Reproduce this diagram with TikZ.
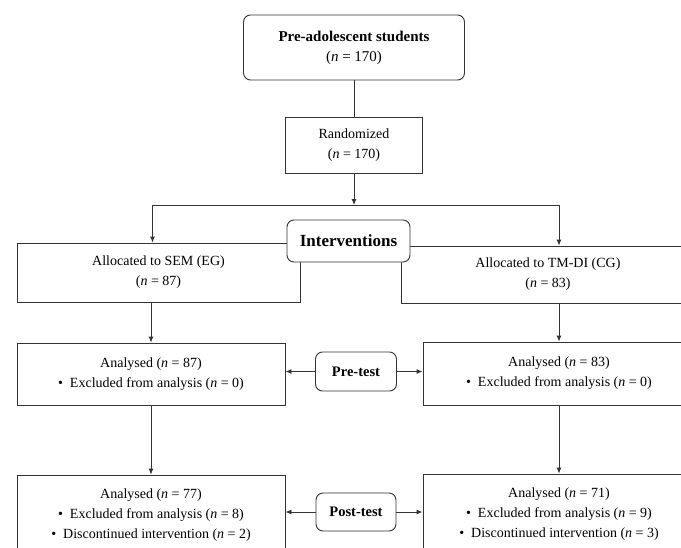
\documentclass[tikz,border=0pt]{standalone}
\usepackage{fontspec}
\setmainfont{Liberation Serif}
\usetikzlibrary{arrows.meta}
\begin{document}
\begin{tikzpicture}[x=1pt,y=-1pt,
  box/.style={draw=black!80, line width=0.9pt, fill=white, align=center, inner sep=0pt,
    font=\fontsize{14}{20}\selectfont},
  rbox/.style={box, rounded corners=7pt},
  arr/.style={-{Latex[length=6pt,width=5pt]}, draw=black!80, line width=0.9pt},
  ln/.style={draw=black!80, line width=0.9pt}]
\useasboundingbox (0,0) rectangle (681,547);
\clip (0,0) rectangle (681,547);

\node[rbox, minimum width=221pt, minimum height=65pt, font=\bfseries\fontsize{15}{20}\selectfont] (pre) at (354,47.5)
  {Pre-adolescent students\\{\mdseries(\textit{n} = 170)}};
\node[box, minimum width=137pt, minimum height=56pt] (rand) at (354,145)
  {Randomized\\(\textit{n} = 170)};

\node[box, minimum width=283pt, minimum height=59pt] (sem) at (158.5,272.5)
  {Allocated to SEM (EG)\\(\textit{n} = 87)};
\node[box, minimum width=294pt, minimum height=57pt] (tm) at (548,274.5)
  {Allocated to TM-DI (CG)\\(\textit{n} = 83)};
\node[rbox, minimum width=123pt, minimum height=42pt, font=\bfseries\fontsize{17}{20}\selectfont] (int) at (348.5,241)
  {Interventions};

\node[box, minimum width=268pt, minimum height=62pt] (anl) at (151,374)
  {Analysed (\textit{n} = 87)\\\textbullet\ \ Excluded from analysis (\textit{n} = 0)};
\node[rbox, minimum width=81pt, minimum height=39pt, font=\bfseries\fontsize{14.5}{20}\selectfont] (pret) at (356,371.5)
  {Pre-test};
\node[box, minimum width=272pt, minimum height=63pt] (anr) at (559,373.5)
  {Analysed (\textit{n} = 83)\\\textbullet\ \ Excluded from analysis (\textit{n} = 0)};

\node[box, minimum width=268pt, minimum height=80pt] (postl) at (151,515)
  {Analysed (\textit{n} = 77)\\\textbullet\ \ Excluded from analysis (\textit{n} = 8)\\\textbullet\ \ Discontinued intervention (\textit{n} = 2)};
\node[rbox, minimum width=80pt, minimum height=38pt, font=\bfseries\fontsize{14.5}{20}\selectfont] (postt) at (356,512)
  {Post-test};
\node[box, minimum width=272pt, minimum height=80pt] (postr) at (559,514)
  {Analysed (\textit{n} = 71)\\\textbullet\ \ Excluded from analysis (\textit{n} = 9)\\\textbullet\ \ Discontinued intervention (\textit{n} = 3)};

\coordinate (j) at (354,205);
\draw[ln] (pre) -- (rand);
\draw[arr] (rand) -- (j);
\draw[arr] (j) -| ([xshift=-6pt]sem.north);
\draw[arr] (j) -| ([xshift=11pt]tm.north);
\draw[arr] (sem.south -| anl.north) -- (anl.north);
\draw[arr] (tm.south -| anr.north) -- (anr.north);
\draw[arr] (anl) -- (postl);
\draw[arr] (anr) -- (postr);
\draw[arr] (pret.west) -- (pret.west -| anl.east);
\draw[arr] (pret.east) -- (pret.east -| anr.west);
\draw[arr] (postt.west) -- (postt.west -| postl.east);
\draw[arr] (postt.east) -- (postt.east -| postr.west);
\end{tikzpicture}
\end{document}
